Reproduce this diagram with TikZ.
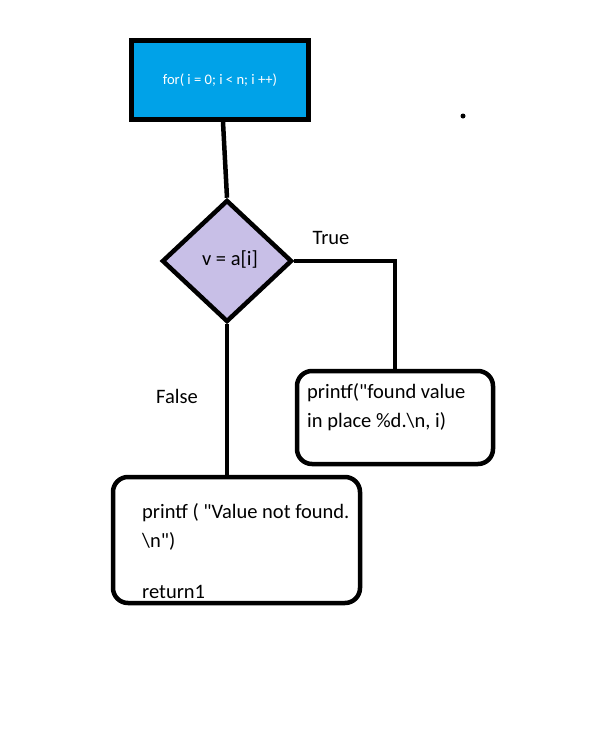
\documentclass[tikz,border=0pt]{standalone}
\usepackage{fontspec}
\setmainfont{Carlito}[Ligatures=TeXOff]
\usetikzlibrary{shapes.geometric}
\definecolor{paintblue}{HTML}{00A2E8}
\definecolor{paintlav}{HTML}{C8BFE7}
\begin{document}
\begin{tikzpicture}[x=1pt,y=-1pt,
  every node/.style={font=\fontsize{20.5}{29}\selectfont, text=black},
  boxline/.style={draw=black, line width=5pt},
  connector/.style={draw=black, line width=4.5pt},
  roundbox/.style={draw=black, line width=4.5pt, rounded corners=15pt, inner sep=0pt, fill=white},
  txt/.style={anchor=north west, align=left, inner sep=0pt}
]
\useasboundingbox[fill=white] (0,0) rectangle (613,731);

\node[boxline, fill=paintblue, minimum width=177pt, minimum height=79pt, inner sep=0pt,
      font=\fontsize{14.6}{16}\selectfont, text=white] (top) at (220,80) {for( i = 0; i < n; i ++)};

\node[diamond, draw=black, line width=4.5pt, fill=paintlav, inner sep=0pt,
      minimum width=130pt, minimum height=122pt] (dia) at (227,261) {};
\node (diatext) at (230,259) {v = a[i]};

\node[roundbox, minimum width=196pt, minimum height=93pt] (rbox) at (395,417.5) {};
\node[txt] (rtext) at (307,383) {printf("found value\\in place \%d.\textbackslash n, i)};

\node[roundbox, minimum width=247pt, minimum height=126pt] (bbox) at (236.5,540) {};
\node[txt] (btext) at (142,503) {printf ( "Value not found.\\\textbackslash n")\\[22pt]return1};

\draw[connector] ([xshift=3pt]top.south) -- (dia.north);
\draw[connector] (dia.east) -| (rbox.north);
\draw[connector] (dia.south) -- (dia.south |- bbox.north);

\node (truelabel) at (331,238) {True};
\node (falselabel) at (177,396) {False};

\fill[black] (463,116) circle (2.5pt);
\end{tikzpicture}
\end{document}
